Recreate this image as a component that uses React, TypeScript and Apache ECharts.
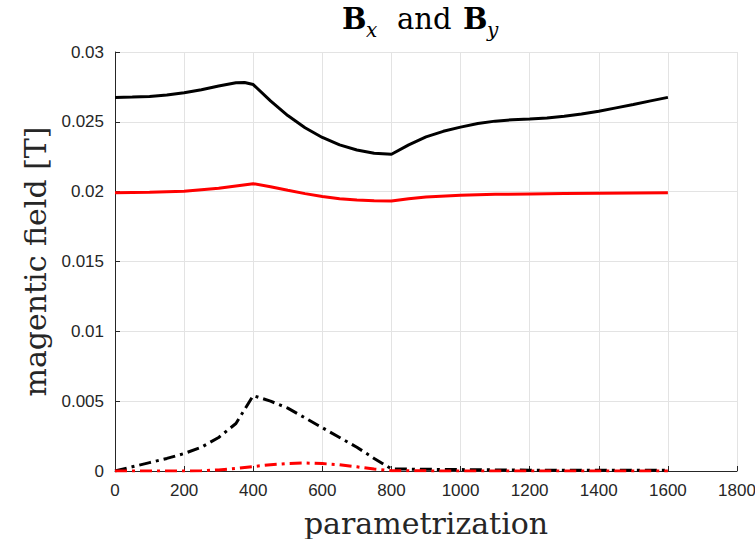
import React, { useEffect, useRef } from "react";
import * as echarts from "echarts";

const bxSolidX = [0, 50, 100, 150, 200, 250, 300, 350, 375, 400, 450, 500, 550, 600, 650, 700, 750, 800, 850, 900, 950, 1000, 1050, 1100, 1150, 1200, 1250, 1300, 1350, 1400, 1450, 1500, 1550, 1600];
const bxSolidY = [0.02675, 0.02677, 0.02682, 0.02692, 0.02708, 0.0273, 0.02757, 0.0278, 0.02782, 0.02767, 0.0265, 0.02545, 0.02458, 0.02388, 0.02335, 0.02298, 0.02275, 0.02268, 0.02335, 0.02392, 0.02432, 0.02462, 0.02488, 0.02505, 0.02515, 0.0252, 0.02528, 0.0254, 0.02556, 0.02576, 0.026, 0.02624, 0.0265, 0.02675];

const redSolidX = [0, 100, 200, 300, 400, 450, 500, 550, 600, 650, 700, 750, 800, 850, 900, 1000, 1100, 1200, 1300, 1400, 1500, 1600];
const redSolidY = [0.01993, 0.01995, 0.02003, 0.02025, 0.02057, 0.02035, 0.0201, 0.01986, 0.01966, 0.0195, 0.0194, 0.01935, 0.01933, 0.0195, 0.01962, 0.01974, 0.01981, 0.01984, 0.01987, 0.01989, 0.01991, 0.01993];

const blackDashX = [0, 50, 100, 150, 200, 250, 300, 350, 400, 450, 500, 550, 600, 650, 700, 750, 800, 900, 1000, 1200, 1400, 1600];
const blackDashY = [0, 0.0003, 0.0006, 0.0009, 0.00125, 0.0017, 0.0024, 0.0034, 0.0054, 0.005, 0.0045, 0.0038, 0.0031, 0.0024, 0.0017, 0.0009, 0.00015, 0.00012, 0.0001, 0.00006, 0.00005, 0.00005];

const redDashX = [0, 200, 250, 300, 350, 400, 450, 500, 550, 600, 650, 700, 750, 800, 1000, 1600];
const redDashY = [0, 0, 0.00002, 0.00008, 0.00018, 0.00032, 0.00045, 0.00054, 0.00057, 0.00053, 0.00045, 0.0003, 0.00014, 0.00002, 0, 0];

const titleParts = [
  { text: "B", kind: "bold" },
  { text: "x", kind: "sub" },
  { text: "and", kind: "normal" },
  { text: "B", kind: "bold" },
  { text: "y", kind: "sub" },
];

const pairs = (xs: number[], ys: number[]) => xs.map((x, i) => [x, ys[i]]);

export default function App() {
  const ref = useRef<HTMLDivElement>(null);
  useEffect(() => {
    if (!ref.current) return;
    const chart = echarts.init(ref.current, null, { renderer: "svg" });
    const axisColor = "#262626";
    const serif = "'DejaVu Serif', 'Liberation Serif', serif";
    const sans = "'Liberation Sans', Arial, sans-serif";
    const titleX = [342, 366, 397, 463, 487];
    const titleEls = titleParts.map((p, i) => ({
      type: "text",
      left: titleX[i],
      top: p.kind === "sub" ? 20 : 4,
      style: {
        text: p.text,
        fontFamily: serif,
        fontSize: p.kind === "sub" ? 20 : 29,
        fontWeight: p.kind === "bold" ? "bold" : "normal",
        fontStyle: p.kind === "sub" ? "italic" : "normal",
        fill: "#000",
      },
    }));
    chart.setOption({
      animation: false,
      backgroundColor: "#ffffff",
      graphic: titleEls,
      grid: { left: 115, top: 52, width: 622, height: 419, containLabel: false, outerBoundsMode: "none" },
      xAxis: {
        type: "value",
        min: 0,
        max: 1800,
        interval: 200,
        name: "parametrization",
        nameLocation: "middle",
        nameGap: 37,
        nameTextStyle: { fontFamily: serif, fontSize: 30, color: "#262626" },
        axisLine: { show: true, lineStyle: { color: axisColor, width: 1 } },
        axisTick: { show: true, inside: true, length: 5, lineStyle: { color: axisColor } },
        axisLabel: { fontFamily: sans, fontSize: 17, color: axisColor, margin: 11, formatter: (v: number) => String(v) },
        splitLine: { show: true, lineStyle: { color: "#e3e3e3", width: 1 } },
      },
      yAxis: {
        type: "value",
        min: 0,
        max: 0.03,
        interval: 0.005,
        name: "magentic field [T]",
        nameLocation: "middle",
        nameGap: 64,
        nameTextStyle: { fontFamily: serif, fontSize: 30, color: "#262626" },
        axisLine: { show: true, lineStyle: { color: axisColor, width: 1 } },
        axisTick: { show: true, inside: true, length: 5, lineStyle: { color: axisColor } },
        axisLabel: { fontFamily: sans, fontSize: 17, color: axisColor, margin: 11, formatter: (v: number) => String(Number(v.toFixed(4))) },
        splitLine: { show: true, lineStyle: { color: "#e3e3e3", width: 1 } },
      },
      series: [
        {
          type: "line",
          data: pairs(bxSolidX, bxSolidY),
          showSymbol: false,
          lineStyle: { color: "#000000", width: 3 },
          z: 4,
        },
        {
          type: "line",
          data: pairs(redSolidX, redSolidY),
          showSymbol: false,
          lineStyle: { color: "#ff0000", width: 3 },
          z: 4,
        },
        {
          type: "line",
          data: pairs(blackDashX, blackDashY),
          showSymbol: false,
          lineStyle: { color: "#000000", width: 3, type: [12, 5, 3, 5] },
          z: 3,
        },
        {
          type: "line",
          data: pairs(redDashX, redDashY),
          showSymbol: false,
          lineStyle: { color: "#ff0000", width: 3, type: [12, 5, 3, 5] },
          z: 4,
        },
      ],
    });
    return () => chart.dispose();
  }, []);
  return <div ref={ref} style={{ width: 755, height: 539, position: "absolute", left: 0, top: 0 }} />;
}
